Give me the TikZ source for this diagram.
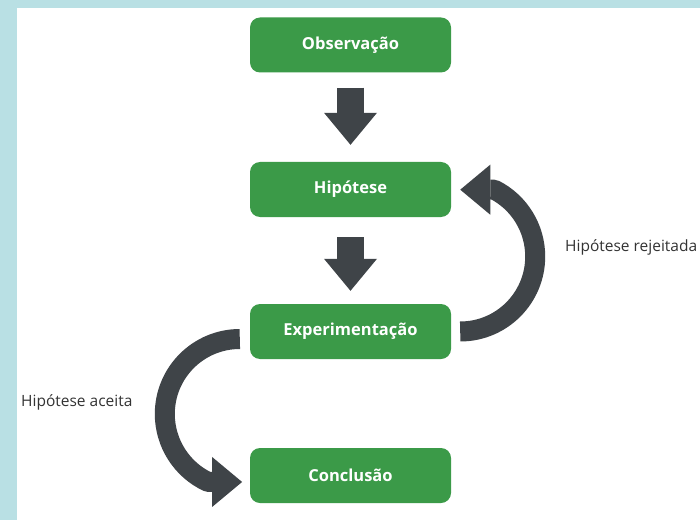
\documentclass[tikz,border=0pt]{standalone}
\usepackage{fontspec}
\setmainfont{Open Sans}
\usetikzlibrary{arrows.meta}
\definecolor{bgblue}{HTML}{B9E0E4}
\definecolor{boxgreen}{HTML}{3B9A48}
\definecolor{arrowgray}{HTML}{3F4448}
\definecolor{labelgray}{HTML}{333333}
\begin{document}
\begin{tikzpicture}[x=1pt,y=1pt,
  stepbox/.style={fill=boxgreen, rounded corners=10pt, minimum width=201pt,
    minimum height=55pt, inner sep=0pt, text=white,
    font=\fontsize{16.5}{18}\selectfont\bfseries},
  fatarrow/.style={draw=arrowgray, line width=27pt,
    -{Triangle[width=53pt 0, length=32pt 0, line width=0pt 0]}},
  bendarrow/.style={draw=arrowgray, line width=20pt, line join=round,
    -{Triangle[width=50pt 0, length=30pt 0, line width=0pt 0]}},
  sidelabel/.style={text=labelgray, font=\fontsize{15.5}{18}\selectfont,
    inner sep=0pt, anchor=base west}]
\fill[bgblue] (0,0) rectangle (700,520);
\fill[white] (17,0) rectangle (700,512);
\useasboundingbox (0,0) rectangle (700,520);

\node[stepbox] (obs)  at (350.5,475)   {Observação};
\node[stepbox] (hip)  at (350.5,330.5) {Hipótese};
\node[stepbox] (exp)  at (350.5,188.5) {Experimentação};
\node[stepbox] (conc) at (350.5,44.5)  {Conclusão};

\draw[fatarrow] ([yshift=-15pt]obs.south) -- ([yshift=17pt]hip.north);
\draw[fatarrow] ([yshift=-20pt]hip.south) -- ([yshift=13pt]exp.north);

\coordinate (rstart) at ([xshift=9pt]exp.east);
\draw[bendarrow] (rstart) arc[start angle=-90, end angle=63, radius=75pt] -- ++(-34pt,0);
\coordinate (lstart) at ([xshift=-10pt,yshift=-7.5pt]exp.west);
\draw[bendarrow] (lstart) arc[start angle=90, end angle=245, radius=75pt] -- ++(34pt,0);

\node[sidelabel] (rej) at (565,268.3) {Hipótese rejeitada};
\node[sidelabel] (ace) at (21,113.3) {Hipótese aceita};
\end{tikzpicture}
\end{document}
